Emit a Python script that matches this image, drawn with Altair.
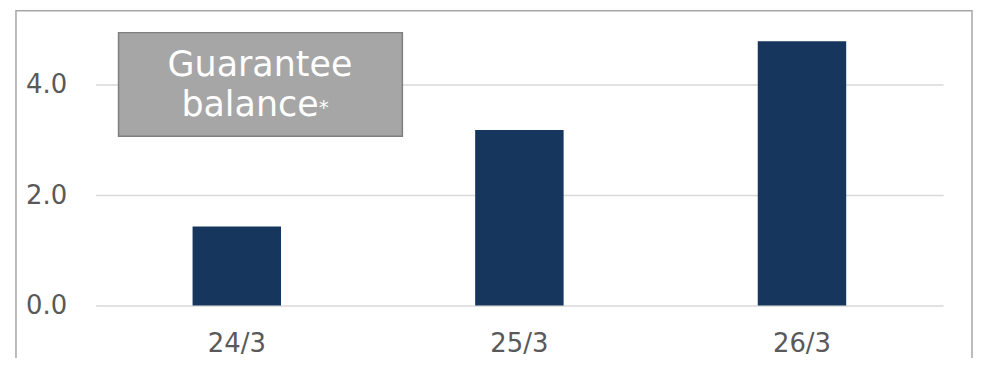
import altair as alt
import pandas as pd

categories = ["24/3", "25/3", "26/3"]
values = [1.43, 3.18, 4.79]
y_ticks = [0, 2, 4]
box_line1 = "Guarantee"
box_line2 = "balance"
box_mark = "*"

df = pd.DataFrame({"period": categories, "value": values})
one = pd.DataFrame({"k": [0]})

FONT = "DejaVu Sans"
GREY_TXT = "#595959"

x_enc = alt.X("period:N", sort=categories, title=None,
              scale=alt.Scale(paddingInner=0.687, paddingOuter=0.343),
              axis=alt.Axis(labelAngle=0, ticks=False, domain=False, grid=False,
                            labelFontSize=26, labelFont=FONT, labelColor=GREY_TXT,
                            labelPadding=25))
y_enc = alt.Y("value:Q", title=None,
              scale=alt.Scale(domain=[0, 5], nice=False),
              axis=alt.Axis(values=y_ticks, format=".1f", ticks=False, domain=False,
                            grid=True, gridColor="#d9d9d9", gridWidth=1.5,
                            labelFontSize=26, labelFont=FONT, labelColor=GREY_TXT,
                            labelPadding=29))

bars = alt.Chart(df).mark_bar(color="#17365d").encode(x=x_enc, y=y_enc)

frame = alt.Chart(one).mark_rect(fill="transparent", stroke="#a6a6a6", strokeWidth=1.5).encode(
    x=alt.value(-80), x2=alt.value(880), y=alt.value(-19), y2=alt.value(420))

box = alt.Chart(one).mark_rect(fill="#a6a6a6", stroke="#7f7f7f", strokeWidth=1.5).encode(
    x=alt.value(23), x2=alt.value(308), y=alt.value(3), y2=alt.value(107))

t1 = alt.Chart(one).mark_text(font=FONT, fontSize=35, color="white",
                              align="center", baseline="middle").encode(
    x=alt.value(165), y=alt.value(36), text=alt.value(box_line1))
t2 = alt.Chart(one).mark_text(font=FONT, fontSize=35, color="white",
                              align="center", baseline="middle").encode(
    x=alt.value(155), y=alt.value(76), text=alt.value(box_line2))
t3 = alt.Chart(one).mark_text(font=FONT, fontSize=20, color="white",
                              align="left", baseline="middle").encode(
    x=alt.value(224), y=alt.value(79), text=alt.value(box_mark))

chart = alt.layer(frame, bars, box, t1, t2, t3).properties(
    width=851, height=277,
    autosize="none",
    padding={"left": 88, "top": 21, "right": 30, "bottom": 52},
    view=alt.ViewBackground(stroke="transparent", strokeWidth=0),
).configure_view(stroke="transparent", strokeWidth=0).configure(background="white")

chart.save("out.html", embed_options={"renderer": "svg", "actions": False})
